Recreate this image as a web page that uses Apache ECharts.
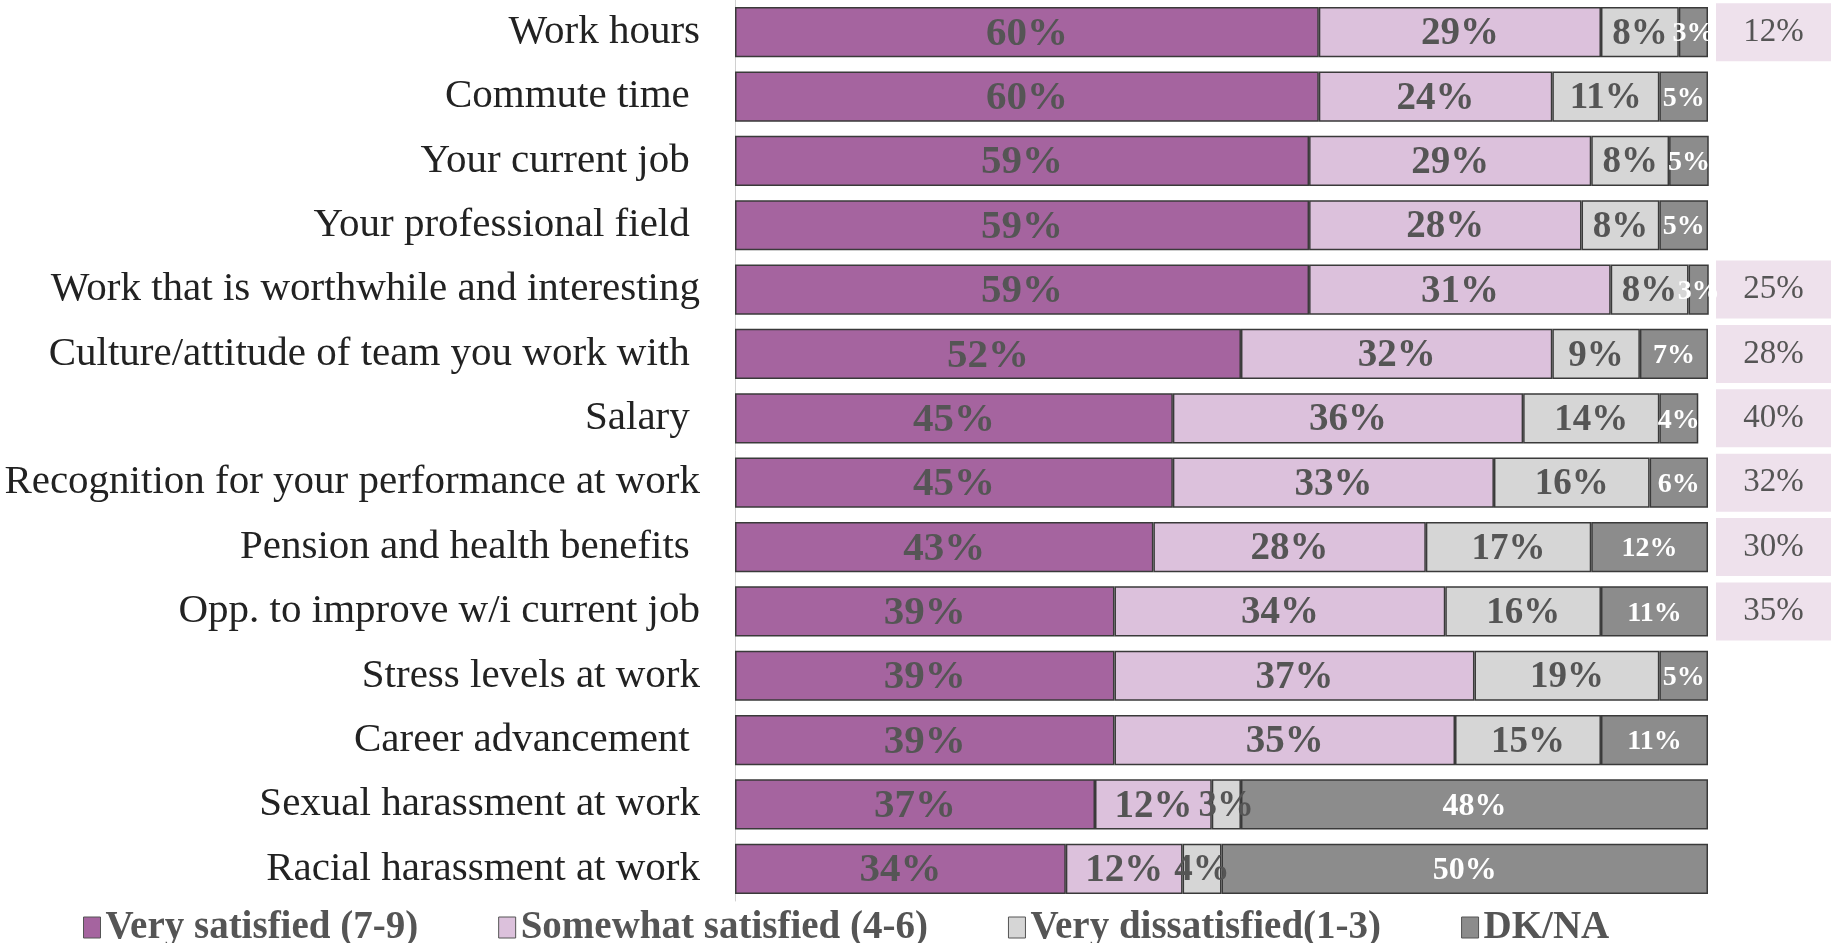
<!DOCTYPE html>
<html>
<head>
<meta charset="UTF-8">
<title>Satisfaction</title>
<script src="https://cdn.jsdelivr.net/npm/echarts@6/dist/echarts.min.js"></script>
<style>
	html, body { margin: 0; padding: 0; background: #fff; }
	#chart { width: 1837px; height: 943px; }
</style>
</head>
<body>
<div id="chart"></div>
<script type="text/javascript">
	var categories = ['Work hours', 'Commute time ', 'Your current job ', 'Your professional field ',
		'Work that is worthwhile and interesting', 'Culture/attitude of team you work with ', 'Salary ',
		'Recognition for your performance at work', 'Pension and health benefits ', 'Opp. to improve w/i current job',
		'Stress levels at work', 'Career advancement ', 'Sexual harassment at work', 'Racial harassment at work'];
	var verySatisfied = [60, 60, 59, 59, 59, 52, 45, 45, 43, 39, 39, 39, 37, 34];
	var somewhatSatisfied = [29, 24, 29, 28, 31, 32, 36, 33, 28, 34, 37, 35, 12, 12];
	var veryDissatisfied = [8, 11, 8, 8, 8, 9, 14, 16, 17, 16, 19, 15, 3, 4];
	var dkna = [3, 5, 5, 5, 3, 7, 4, 6, 12, 11, 5, 11, 48, 50];
	var sideValues = ['12%', '', '', '', '25%', '28%', '40%', '32%', '30%', '35%', '', '', '', ''];
	var seriesNames = ['Very satisfied (7-9)', 'Somewhat satisfied (4-6)', 'Very dissatisfied(1-3)', 'DK/NA'];

	var chart = echarts.init(document.getElementById('chart'));

	function barSeries(name, data, color, labelColor, size) {
		return {
			name: name,
			type: 'bar',
			stack: 'total',
			barWidth: '78%',
			data: data,
			itemStyle: { color: color, borderColor: '#3a3a3a', borderWidth: 1.5 },
			label: {
				show: true,
				position: 'inside',
				offset: [0, 2],
				formatter: '{c}%',
				color: labelColor,
				fontFamily: 'Liberation Serif',
				fontWeight: 'bold',
				fontSize: size
			}
		};
	}

	// 大块的DK/NA标签字号大一些
	var dkData = dkna.map(function (v) {
		return { value: v, label: { fontSize: v > 20 ? 32 : 28 } };
	});

	var options = {
		animation: false,
		grid: { left: 735, right: 129, top: 0, bottom: 42 },
		legend: {
			data: seriesNames,
			left: 78,
			top: 903,
			itemWidth: 17,
			itemHeight: 21,
			itemGap: 80,
			icon: 'rect',
			itemStyle: { borderColor: '#555', borderWidth: 1 },
			textStyle: { fontFamily: 'Liberation Serif', fontWeight: 'bold', fontSize: 39, color: '#555' }
		},
		xAxis: { type: 'value', min: 0, max: 100, show: false },
		yAxis: [{
			type: 'category',
			data: categories,
			inverse: true,
			axisTick: { show: false },
			axisLine: { lineStyle: { color: '#d0d0d0' } },
			axisLabel: {
				interval: 0,
				margin: 35,
				padding: [4, 0, 0, 0],
				color: '#222',
				fontFamily: 'Liberation Serif',
				fontSize: 41
			}
		}, {
			type: 'category',
			data: categories,
			inverse: true,
			position: 'right',
			axisTick: { show: false },
			axisLine: { show: false },
			axisLabel: {
				interval: 0,
				margin: 8,
				align: 'left',
				formatter: function (v, i) {
					return sideValues[i] ? '{box|' + sideValues[i] + '}' : '';
				},
				rich: {
					box: {
						width: 115,
						height: 58,
						lineHeight: 58,
						align: 'center',
						backgroundColor: '#eee1ec',
						color: '#555',
						fontFamily: 'Liberation Serif',
						fontSize: 33
					}
				}
			}
		}],
		series: [
			barSeries(seriesNames[0], verySatisfied, '#a5649f', '#555', 41),
			barSeries(seriesNames[1], somewhatSatisfied, '#dcc1dc', '#555', 39),
			barSeries(seriesNames[2], veryDissatisfied, '#d6d6d6', '#555', 37),
			barSeries(seriesNames[3], dkData, '#8c8c8c', '#fff', 28)
		]
	};
	chart.setOption(options);
</script>
</body>
</html>
